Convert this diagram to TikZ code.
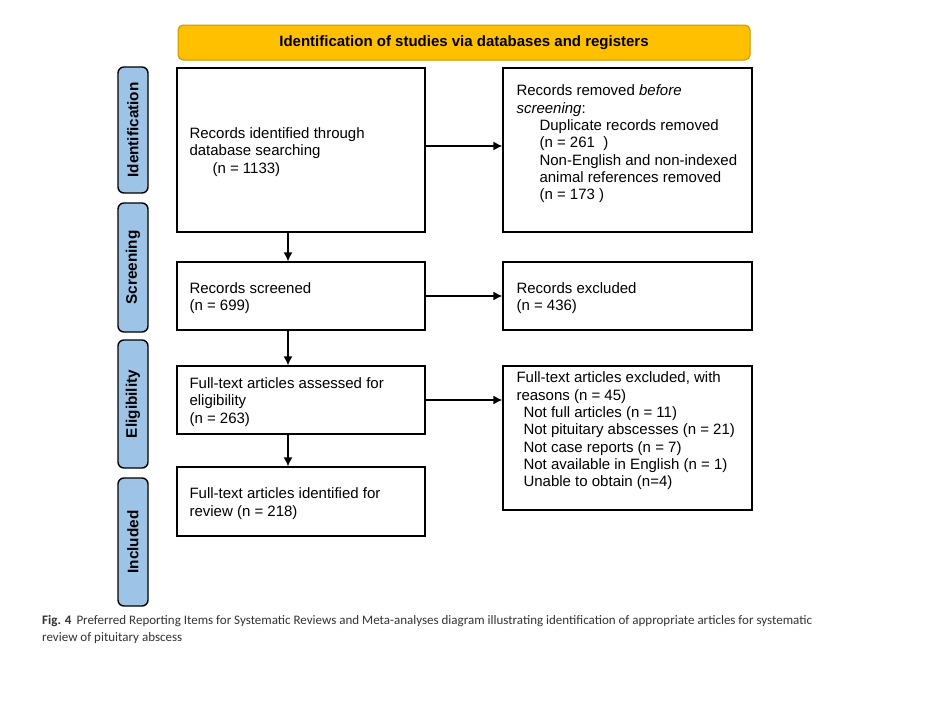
\documentclass[tikz,border=0pt]{standalone}
\usepackage{fontspec}
\setmainfont{Liberation Sans}
\newfontfamily\capfont{Carlito}
\usetikzlibrary{arrows.meta,calc}
\definecolor{hdrfill}{HTML}{FFC000}
\definecolor{hdrdraw}{HTML}{C99700}
\definecolor{sidefill}{HTML}{9DC3E6}
\definecolor{capcol}{HTML}{333333}
\begin{document}
\begin{tikzpicture}[x=1pt,y=-1pt,
  box/.style={draw=black, line width=1.3pt, fill=white, inner sep=0pt},
  hdr/.style={draw=hdrdraw, line width=1pt, fill=hdrfill, rounded corners=5pt, inner sep=0pt, font=\bfseries\fontsize{15}{17}\selectfont},
  side/.style={draw=black, line width=1.4pt, fill=sidefill, rounded corners=6pt, inner sep=0pt, minimum width=30pt},
  sidetxt/.style={rotate=90, font=\bfseries\fontsize{15.3}{17}\selectfont, inner sep=0pt},
  txt/.style={align=left, inner sep=0pt, anchor=west, yshift=-2pt, font=\fontsize{15}{17.3}\selectfont},
  arr/.style={line width=1.3pt, -{Latex[length=9pt,width=9pt]}},
  captxt/.style={inner sep=0pt, anchor=base west, text=capcol, font=\capfont\fontsize{13}{15}\selectfont}
]
\useasboundingbox[fill=white] (0,0) rectangle (930,712);

% header
\node[hdr, minimum width=572pt, minimum height=35pt] (hdr) at (464,42.5) {Identification of studies via databases and registers};

% side labels
\node[side, minimum height=126pt] (s1) at (133,130) {};
\node[sidetxt] (s1t) at (s1.center) {Identification};
\node[side, minimum height=129pt] (s2) at (133,267.5) {};
\node[sidetxt] (s2t) at (s2.center) {Screening};
\node[side, minimum height=128pt] (s3) at (133,404) {};
\node[sidetxt] (s3t) at (s3.center) {Eligibility};
\node[side, minimum height=128pt] (s4) at (133,542) {};
\node[sidetxt] (s4t) at (s4.center) {Included};

% boxes
\node[box, minimum width=248pt, minimum height=164pt] (b1) at (301,150) {};
\node[box, minimum width=249pt, minimum height=164pt] (b2) at (627.5,150) {};
\node[box, minimum width=248pt, minimum height=68pt] (b3) at (301,296) {};
\node[box, minimum width=249pt, minimum height=68pt] (b4) at (627.5,296) {};
\node[box, minimum width=248pt, minimum height=68pt] (b5) at (301,400) {};
\node[box, minimum width=249pt, minimum height=144pt] (b6) at (627.5,438) {};
\node[box, minimum width=248pt, minimum height=69pt] (b7) at (301,501.5) {};

% texts
\node[txt] (t1) at ([xshift=13pt]b1.west) {Records identified through\\database searching\\\hspace{23pt}(n = 1133)};
\node[txt] (t2) at ([xshift=14pt,yshift=8pt]b2.west) {Records removed \textit{before}\\\textit{screening}:\\\hspace{23pt}Duplicate records removed\\\hspace{23pt}(n = 261~~)\\\hspace{23pt}Non-English and non-indexed\\\hspace{23pt}animal references removed\\\hspace{23pt}(n = 173 )};
\node[txt] (t3) at ([xshift=13pt]b3.west) {Records screened\\(n = 699)};
\node[txt] (t4) at ([xshift=14pt]b4.west) {Records excluded\\(n = 436)};
\node[txt] (t5) at ([xshift=13pt]b5.west) {Full-text articles assessed for\\eligibility\\(n = 263)};
\node[txt] (t6) at ([xshift=14pt,yshift=9pt]b6.west) {Full-text articles excluded, with\\reasons (n = 45)\\\hspace{7pt}Not full articles (n = 11)\\\hspace{7pt}Not pituitary abscesses (n = 21)\\\hspace{7pt}Not case reports (n = 7)\\\hspace{7pt}Not available in English (n = 1)\\\hspace{7pt}Unable to obtain (n=4)};
\node[txt] (t7) at ([xshift=13pt]b7.west) {Full-text articles identified for\\review (n = 218)};

% arrows
\coordinate (ax) at (288,0);
\draw[arr] (b1.south -| ax) -- (b3.north -| ax);
\draw[arr] (b3.south -| ax) -- (b5.north -| ax);
\draw[arr] (b5.south -| ax) -- (b7.north -| ax);
\draw[arr] ([yshift=4pt]b1.east) -- ([yshift=4pt]b2.west);
\draw[arr] (b3.east) -- (b4.west);
\draw[arr] (b5.east) -- (b5.east -| b6.west);

% caption
\node[captxt] (c1) at (42,624) {\textbf{Fig. 4}\hspace{5pt}Preferred Reporting Items for Systematic Reviews and Meta-analyses diagram illustrating identification of appropriate articles for systematic};
\node[captxt] (c2) at (42,641) {review of pituitary abscess};
\end{tikzpicture}
\end{document}
